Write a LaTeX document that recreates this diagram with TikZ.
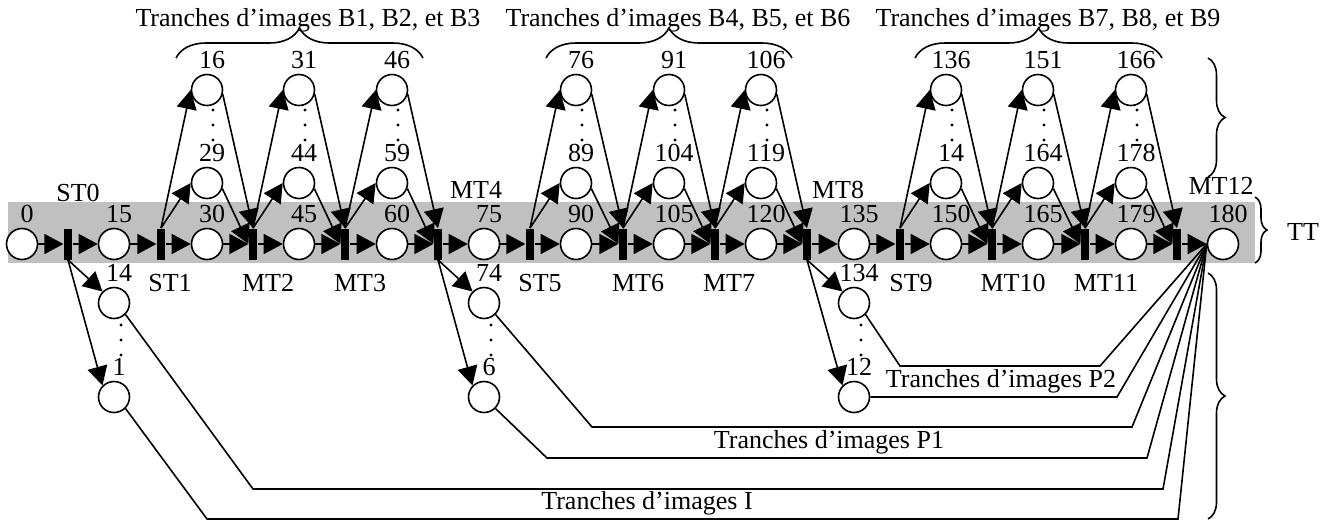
\documentclass[tikz,border=0pt]{standalone}
\usepackage{fontspec}
\setmainfont{Liberation Serif}
\usetikzlibrary{arrows.meta,decorations.pathreplacing}
\definecolor{tbgray}{RGB}{192,192,192}

\begin{document}
\begin{tikzpicture}[x=0.5pt, y=-0.5pt,
    every node/.style={font=\fontsize{13pt}{15pt}\selectfont},
    img/.style={circle, draw, fill=white, line width=0.8pt, minimum size=15.5pt, inner sep=0pt, label={[num]above:#1}},
    num/.style={inner sep=2.2pt, xshift=2.5pt},
    gate/.style={rectangle, fill=black, minimum width=4.2pt, minimum height=15.5pt, inner sep=0pt},
    tag/.style={inner sep=0pt},
    arr/.style={-{Triangle[length=9.5pt, width=10pt]}, line width=0.8pt},
    wire/.style={line width=0.8pt},
    brc/.style={decorate, decoration={brace, amplitude=#1}, line width=0.8pt}
]
\useasboundingbox (0,0) rectangle (1334,521);

% temporal layer band
\fill[tbgray] (8,202) rectangle (1255,263);

% main row: slices and switching points
\node[img=0]   (c0)   at (22,244)   {};
\node[gate]    (st0)  at (68,244)   {};
\node[img=15]  (c15)  at (114,244)  {};
\node[gate]    (st1)  at (161,244)  {};
\node[img=30]  (c30)  at (207,244)  {};
\node[gate]    (mt2)  at (253,244)  {};
\node[img=45]  (c45)  at (299,244)  {};
\node[gate]    (mt3)  at (345,244)  {};
\node[img=60]  (c60)  at (392,244)  {};
\node[gate]    (mt4)  at (438,244)  {};
\node[img=75]  (c75)  at (484,244)  {};
\node[gate]    (st5)  at (530,244)  {};
\node[img=90]  (c90)  at (576,244)  {};
\node[gate]    (mt6)  at (623,244)  {};
\node[img=105] (c105) at (669,244)  {};
\node[gate]    (mt7)  at (715,244)  {};
\node[img=120] (c120) at (761,244)  {};
\node[gate]    (mt8)  at (807,244)  {};
\node[img=135] (c135) at (854,244)  {};
\node[gate]    (st9)  at (900,244)  {};
\node[img=150] (c150) at (946,244)  {};
\node[gate]    (mt10) at (992,244)  {};
\node[img=165] (c165) at (1038,244) {};
\node[gate]    (mt11) at (1085,244) {};
\node[img=179] (c179) at (1131,244) {};
\node[gate]    (mt12) at (1177,244) {};
\node[img=180] (c180) at (1223,244) {};

% B slices
\node[img=16]  (c16)  at (207,90)   {};
\node[img=29]  (c29)  at (207,183)  {};
\node[img=31]  (c31)  at (299,90)   {};
\node[img=44]  (c44)  at (299,183)  {};
\node[img=46]  (c46)  at (392,90)   {};
\node[img=59]  (c59)  at (392,183)  {};
\node[img=76]  (c76)  at (576,90)   {};
\node[img=89]  (c89)  at (576,183)  {};
\node[img=91]  (c91)  at (669,90)   {};
\node[img=104] (c104) at (669,183)  {};
\node[img=106] (c106) at (761,90)   {};
\node[img=119] (c119) at (761,183)  {};
\node[img=136] (c136) at (946,90)   {};
\node[img=14]  (c149) at (946,183)  {};
\node[img=151] (c151) at (1038,90)  {};
\node[img=164] (c164) at (1038,183) {};
\node[img=166] (c166) at (1131,90)  {};
\node[img=178] (c178) at (1131,183) {};

% I and P slices
\node[img=14]  (c14)  at (114,303)  {};
\node[img=1]   (c1)   at (114,397)  {};
\node[img=74]  (c74)  at (484,303)  {};
\node[img=6]   (c6)   at (484,397)  {};
\node[img=134] (c134) at (854,303)  {};
\node[img=12]  (c12)  at (854,397)  {};

% vertical dots
\foreach \x in {213,305,398,582,675,767,952,1044,1137}
  \foreach \y in {110,125,140} \fill (\x,\y) circle (0.8pt);
\foreach \x in {121,491,861}
  \foreach \y in {325,340,355} \fill (\x,\y) circle (0.8pt);

% switching point names
\node[tag] (lst0)  at (78,193)   {ST0};
\node[tag] (lmt4)  at (476,190)  {MT4};
\node[tag] (lmt8)  at (838,190)  {MT8};
\node[tag] (lmt12) at (1221,186) {MT12};
\node[tag] (lst1)  at (170,283)  {ST1};
\node[tag] (lmt2)  at (268,283)  {MT2};
\node[tag] (lmt3)  at (360,283)  {MT3};
\node[tag] (lst5)  at (540,283)  {ST5};
\node[tag] (lmt6)  at (638,283)  {MT6};
\node[tag] (lmt7)  at (729,283)  {MT7};
\node[tag] (lst9)  at (911,283)  {ST9};
\node[tag] (lmt10) at (1013,283) {MT10};
\node[tag] (lmt11) at (1106,283) {MT11};

% group titles
\node[tag] (tb1) at (308,20)  {Tranches d’images B1, B2, et B3};
\node[tag] (tb2) at (678,20)  {Tranches d’images B4, B5, et B6};
\node[tag] (tb3) at (1048,20) {Tranches d’images B7, B8, et B9};
\node[tag] (tp2) at (1001,381) {Tranches d’images P2};
\node[tag] (tp1) at (829,442)  {Tranches d’images P1};
\node[tag] (ti)  at (647,503)  {Tranches d’images I};
\node[tag] (tt)  at (1303,232) {TT};

% braces
\draw[brc=15pt]  (176,58) -- (423,58);
\draw[brc=15pt]  (546,58) -- (792,58);
\draw[brc=15pt]  (915,58) -- (1162,58);
\draw[brc=8.5pt] (1208,58) -- (1208,177);
\draw[brc=8.5pt] (1208,273) -- (1208,519);
\draw[brc=6pt]   (1255,197) -- (1255,263);

% main row arrows
\draw[arr] (c0)   -- (st0);
\draw[arr] (st0)  -- (c15);
\draw[arr] (c15)  -- (st1);
\draw[arr] (st1)  -- (c30);
\draw[arr] (c30)  -- (mt2);
\draw[arr] (mt2)  -- (c45);
\draw[arr] (c45)  -- (mt3);
\draw[arr] (mt3)  -- (c60);
\draw[arr] (c60)  -- (mt4);
\draw[arr] (mt4)  -- (c75);
\draw[arr] (c75)  -- (st5);
\draw[arr] (st5)  -- (c90);
\draw[arr] (c90)  -- (mt6);
\draw[arr] (mt6)  -- (c105);
\draw[arr] (c105) -- (mt7);
\draw[arr] (mt7)  -- (c120);
\draw[arr] (c120) -- (mt8);
\draw[arr] (mt8)  -- (c135);
\draw[arr] (c135) -- (st9);
\draw[arr] (st9)  -- (c150);
\draw[arr] (c150) -- (mt10);
\draw[arr] (mt10) -- (c165);
\draw[arr] (c165) -- (mt11);
\draw[arr] (mt11) -- (c179);
\draw[arr] (c179) -- (mt12);
\draw[arr] (mt12) -- (c180);

% B branches
\draw[arr] (st1.north)  -- (c16.west);
\draw[arr] (st1.north)  -- (c29.west);
\draw[arr] (c16.-15)    -- (mt2.north);
\draw[arr] (c29.-20)    -- (mt2.west);
\draw[arr] (mt2.north)  -- (c31.west);
\draw[arr] (mt2.north)  -- (c44.west);
\draw[arr] (c31.-15)    -- (mt3.north);
\draw[arr] (c44.-20)    -- (mt3.west);
\draw[arr] (mt3.north)  -- (c46.west);
\draw[arr] (mt3.north)  -- (c59.west);
\draw[arr] (c46.-15)    -- (mt4.north);
\draw[arr] (c59.-20)    -- (mt4.west);
\draw[arr] (st5.north)  -- (c76.west);
\draw[arr] (st5.north)  -- (c89.west);
\draw[arr] (c76.-15)    -- (mt6.north);
\draw[arr] (c89.-20)    -- (mt6.west);
\draw[arr] (mt6.north)  -- (c91.west);
\draw[arr] (mt6.north)  -- (c104.west);
\draw[arr] (c91.-15)    -- (mt7.north);
\draw[arr] (c104.-20)   -- (mt7.west);
\draw[arr] (mt7.north)  -- (c106.west);
\draw[arr] (mt7.north)  -- (c119.west);
\draw[arr] (c106.-15)   -- (mt8.north);
\draw[arr] (c119.-20)   -- (mt8.west);
\draw[arr] (st9.north)  -- (c136.west);
\draw[arr] (st9.north)  -- (c149.west);
\draw[arr] (c136.-15)   -- (mt10.north);
\draw[arr] (c149.-20)   -- (mt10.west);
\draw[arr] (mt10.north) -- (c151.west);
\draw[arr] (mt10.north) -- (c164.west);
\draw[arr] (c151.-15)   -- (mt11.north);
\draw[arr] (c164.-20)   -- (mt11.west);
\draw[arr] (mt11.north) -- (c166.west);
\draw[arr] (mt11.north) -- (c178.west);
\draw[arr] (c166.-15)   -- (mt12.north);
\draw[arr] (c178.-20)   -- (mt12.west);

% I and P branches
\draw[arr] (st0.south) -- (c14.north west);
\draw[arr] (st0.south) -- (c1.north west);
\draw[arr] (mt4.south) -- (c74.north west);
\draw[arr] (mt4.south) -- (c6.north west);
\draw[arr] (mt8.south) -- (c134.north west);
\draw[arr] (mt8.south) -- (c12.north west);

% links to the last slice
\draw[wire] (c14.south east)  -- (253,489) -- (1163,489) -- (c180.west);
\draw[wire] (c1.south east)   -- (207,519) -- (1178,519) -- (c180.west);
\draw[wire] (c74.south east)  -- (592,427) -- (1132,427) -- (c180.west);
\draw[wire] (c6.south east)   -- (547,458) -- (1147,458) -- (c180.west);
\draw[wire] (c134.south east) -- (900,366) -- (1100,366) -- (c180.west);
\draw[wire] (c12.east)        -- (1117,397) -- (c180.west);
\end{tikzpicture}
\end{document}
